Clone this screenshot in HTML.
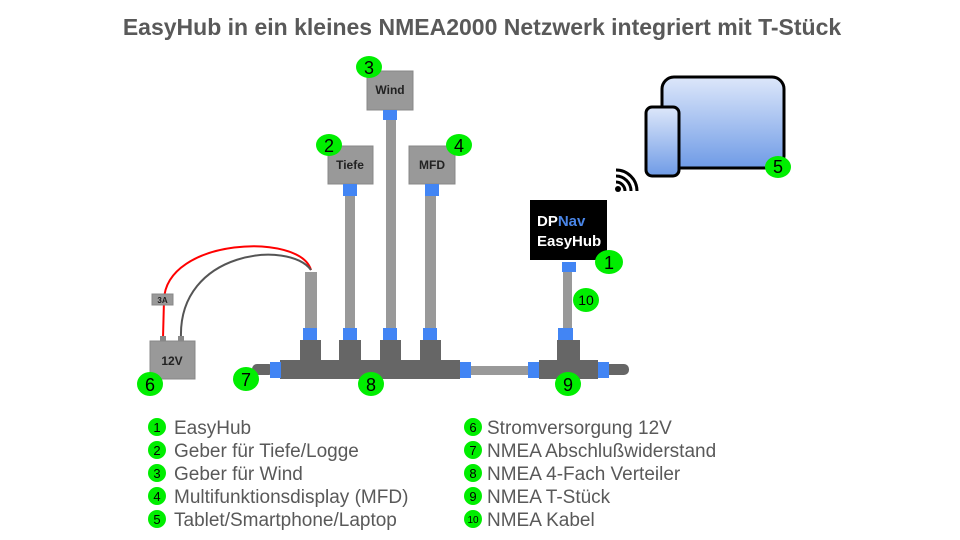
<!DOCTYPE html>
<html><head><meta charset="utf-8"><style>
body{margin:0;background:#fff}
svg{display:block;font-family:"Liberation Sans",Arial,sans-serif}
</style></head><body>
<svg width="960" height="540" viewBox="0 0 960 540" xmlns="http://www.w3.org/2000/svg">
<defs>
<linearGradient id="g" x1="0" y1="0" x2="0" y2="1"><stop offset="0" stop-color="#dde7fa"/><stop offset="1" stop-color="#6f9be6"/></linearGradient>
</defs>
<text x="482" y="35" text-anchor="middle" font-size="23" font-weight="bold" fill="#595959">EasyHub in ein kleines NMEA2000 Netzwerk integriert mit T-Stück</text>

<!-- wires -->
<path d="M163,338 L164,300 C166,238 300,232 311,270" fill="none" stroke="#f00" stroke-width="2"/>
<path d="M181,338 C178,250 290,240 311,270" fill="none" stroke="#555" stroke-width="2"/>
<rect x="152" y="294" width="21" height="11" fill="#999" stroke="#888"/>
<text x="162.5" y="303" text-anchor="middle" font-size="8" font-weight="bold" fill="#222">3A</text>
<rect x="160" y="336" width="6" height="5" fill="#888"/>
<rect x="178" y="336" width="6" height="5" fill="#888"/>
<rect x="150" y="341" width="45" height="38" fill="#999" stroke="#888"/>
<text x="172" y="365" text-anchor="middle" font-size="12" font-weight="bold" fill="#222">12V</text>

<!-- cables -->
<g fill="#999">
<rect x="305" y="272" width="12" height="56"/>
<rect x="345" y="196" width="10" height="132"/>
<rect x="386" y="120" width="10" height="208"/>
<rect x="425" y="196" width="11" height="132"/>
<rect x="563" y="272" width="9" height="56"/>
<rect x="471" y="366" width="57" height="9"/>
</g>
<!-- devices -->
<g fill="#999" stroke="#888">
<rect x="367" y="71" width="46" height="39"/>
<rect x="328" y="146" width="45" height="38"/>
<rect x="409" y="146" width="46" height="38"/>
</g>
<g font-size="12" font-weight="bold" fill="#222" text-anchor="middle">
<text x="390" y="94">Wind</text>
<text x="350" y="169">Tiefe</text>
<text x="432" y="169">MFD</text>
</g>
<rect x="530" y="200" width="77" height="60" fill="#000"/>
<text x="537" y="226" font-size="15" font-weight="bold" fill="#fff">DP<tspan fill="#4a86e8">Nav</tspan></text>
<text x="537" y="246" font-size="15" font-weight="bold" fill="#fff">EasyHub</text>

<!-- distributor -->
<g fill="#666">
<rect x="252" y="364" width="22" height="11" rx="5"/>
<rect x="300" y="340" width="21" height="22"/>
<rect x="339" y="340" width="22" height="22"/>
<rect x="380" y="340" width="21" height="22"/>
<rect x="420" y="340" width="21" height="22"/>
<rect x="280" y="360" width="180" height="19"/>
<rect x="557" y="340" width="23" height="22"/>
<rect x="539" y="360" width="59" height="19"/>
<rect x="604" y="364" width="25" height="11" rx="5"/>
</g>
<g fill="#4285f4">
<rect x="270" y="362" width="11" height="16"/>
<rect x="460" y="362" width="11" height="16"/>
<rect x="528" y="362" width="11" height="16"/>
<rect x="598" y="362" width="11" height="16"/>
<rect x="303" y="328" width="14" height="12"/>
<rect x="343" y="328" width="14" height="12"/>
<rect x="383" y="328" width="14" height="12"/>
<rect x="423" y="328" width="14" height="12"/>
<rect x="558" y="328" width="15" height="12"/>
<rect x="562" y="262" width="14" height="10"/>
<rect x="383" y="110" width="14" height="10"/>
<rect x="343" y="184" width="14" height="12"/>
<rect x="425" y="184" width="14" height="12"/>
</g>

<!-- wifi -->
<g fill="none" stroke="#000" stroke-width="3">
<path d="M616,182 A9,9 0 0 1 625,191"/>
<path d="M616,176 A15,15 0 0 1 631,191"/>
<path d="M616,170 A21,21 0 0 1 637,191"/>
</g>
<circle cx="618" cy="189" r="3" fill="#000"/>

<!-- tablet -->
<rect x="662" y="77" width="122" height="91" rx="12" fill="url(#g)" stroke="#000" stroke-width="3"/>
<rect x="646" y="107" width="33" height="69" rx="6" fill="url(#g)" stroke="#000" stroke-width="3"/>

<!-- badges -->
<g fill="#00ee00">
<ellipse cx="778" cy="167" rx="13" ry="11"/>
<ellipse cx="609" cy="262" rx="14" ry="12"/>
<ellipse cx="586" cy="300" rx="13" ry="12"/>
<ellipse cx="369" cy="67" rx="13" ry="11"/>
<ellipse cx="329" cy="145" rx="13" ry="11"/>
<ellipse cx="459" cy="145" rx="13" ry="11"/>
<ellipse cx="150" cy="384" rx="13" ry="12"/>
<ellipse cx="246" cy="379" rx="13" ry="12"/>
<ellipse cx="371" cy="384" rx="13" ry="12"/>
<ellipse cx="568" cy="384" rx="13" ry="12"/>
</g>
<g font-size="18" fill="#000" text-anchor="middle">
<text x="778" y="173">5</text>
<text x="609" y="269">1</text>
<text x="586" y="305" font-size="14">10</text>
<text x="369" y="74">3</text>
<text x="329" y="152">2</text>
<text x="459" y="152">4</text>
<text x="150" y="391">6</text>
<text x="246" y="386">7</text>
<text x="371" y="391">8</text>
<text x="568" y="391">9</text>
</g>

<!-- legend -->
<g fill="#00ee00">
<circle cx="157" cy="427" r="9"/><circle cx="157" cy="450" r="9"/><circle cx="157" cy="473" r="9"/><circle cx="157" cy="496" r="9"/><circle cx="157" cy="519" r="9"/>
<circle cx="473" cy="427" r="9"/><circle cx="473" cy="450" r="9"/><circle cx="473" cy="473" r="9"/><circle cx="473" cy="496" r="9"/><circle cx="473" cy="519" r="9"/>
</g>
<g font-size="13" fill="#000" text-anchor="middle">
<text x="157" y="432">1</text><text x="157" y="455">2</text><text x="157" y="478">3</text><text x="157" y="501">4</text><text x="157" y="524">5</text>
<text x="473" y="432">6</text><text x="473" y="455">7</text><text x="473" y="478">8</text><text x="473" y="501">9</text><text x="473" y="523" font-size="10">10</text>
</g>
<g font-size="19" fill="#595959">
<text x="174" y="434">EasyHub</text>
<text x="174" y="457">Geber für Tiefe/Logge</text>
<text x="174" y="480">Geber für Wind</text>
<text x="174" y="503">Multifunktionsdisplay (MFD)</text>
<text x="174" y="526">Tablet/Smartphone/Laptop</text>
<text x="487" y="434">Stromversorgung 12V</text>
<text x="487" y="457">NMEA Abschlußwiderstand</text>
<text x="487" y="480">NMEA 4-Fach Verteiler</text>
<text x="487" y="503">NMEA T-Stück</text>
<text x="487" y="526">NMEA Kabel</text>
</g>
</svg>
</body></html>
